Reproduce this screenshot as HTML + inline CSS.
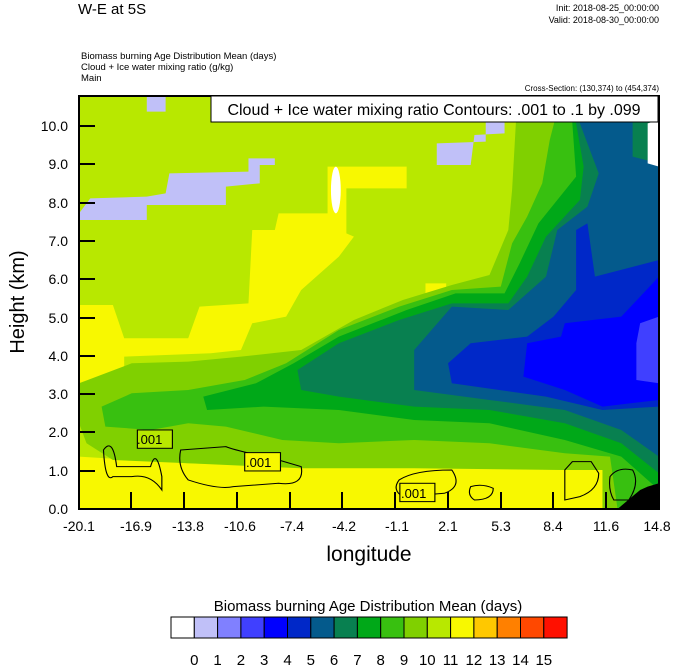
<!DOCTYPE html>
<html><head><style>
body{margin:0;background:#fff;}
svg{display:block;font-family:"Liberation Sans",sans-serif;}
</style></head><body>
<svg width="674" height="667" viewBox="0 0 674 667">
<text x="78" y="14" font-size="15">W-E at 5S</text>
<text x="659" y="11" font-size="9" text-anchor="end">Init: 2018-08-25_00:00:00</text>
<text x="659" y="23" font-size="9" text-anchor="end">Valid: 2018-08-30_00:00:00</text>
<text x="81" y="59" font-size="9.5">Biomass burning Age Distribution Mean   (days)</text>
<text x="81" y="70" font-size="9.5">Cloud + Ice water mixing ratio   (g/kg)</text>
<text x="81" y="81" font-size="9.5">Main</text>
<text x="659" y="91" font-size="8" text-anchor="end">Cross-Section: (130,374) to (454,374)</text>
<defs><clipPath id="c"><rect x="79" y="96" width="580" height="413"/></clipPath></defs>
<g clip-path="url(#c)">
<rect x="79" y="96" width="580" height="413" fill="#b8e800"/>
<g transform="translate(79,96) scale(0.3766,0.3333) translate(-10,-18)">
<polygon fill="#f8f800" points="10,645 100,645 130,745 300,745 330,650 460,640 470,420 530,420 540,370 670,370 670,230 880,230 880,295 720,295 720,430 740,440 700,500 600,600 560,680 470,700 440,780 360,790 130,800 130,870 10,880"/>
<polygon fill="#f8f800" points="930,580 985,580 985,625 930,625"/>
<polygon fill="#f8f800" points="10,1100 300,1120 600,1130 900,1130 1300,1140 1420,1140 1420,1260 10,1260"/>
<polygon fill="#80d000" points="1180,18 1550,18 1550,1257 1400,1257 1400,1140 1300,1140 900,1135 600,1135 300,1120 100,1110 30,1060 10,1000 10,880 150,820 300,815 440,800 600,780 740,690 870,630 1000,585 1100,555 1150,420 1160,300 1170,100"/>
<polygon fill="#38c010" points="1290,18 1550,18 1550,1257 1440,1257 1420,1100 1300,1090 1100,1060 900,1050 700,1060 550,1050 400,1010 300,1000 200,1020 80,1010 70,950 150,910 300,900 450,870 560,820 700,720 860,650 1000,600 1130,590 1160,460 1200,380 1240,280 1260,150"/>
<polygon fill="#00a818" points="1320,18 1550,18 1550,1200 1450,1100 1300,1050 1100,1000 900,990 700,960 500,950 350,960 340,920 480,880 580,820 700,740 880,660 1010,610 1140,610 1180,520 1230,400 1330,260 1320,100"/>
<polygon fill="#088050" points="1330,18 1550,18 1550,1150 1450,1060 1300,1000 1100,960 900,950 700,920 600,900 590,840 700,760 860,690 1000,640 1150,640 1200,560 1250,440 1340,330 1350,230 1330,100"/>
<polygon fill="#045a8c" points="1340,18 1480,18 1480,200 1550,220 1550,1100 1450,1020 1300,960 1100,930 900,900 900,780 1000,650 1150,660 1250,560 1280,420 1360,350 1390,250 1340,100"/>
<polygon fill="#0028c8" points="1380,560 1550,510 1550,950 1400,960 1250,920 1000,880 990,820 1050,760 1200,740 1270,680 1330,600 1330,420 1360,400"/>
<polygon fill="#0000ff" points="1300,700 1450,680 1550,560 1550,930 1400,950 1300,900 1190,860 1200,760 1290,740"/>
<polygon fill="#4040ff" points="1500,700 1550,680 1550,880 1490,870 1490,760"/>
<polygon fill="#fff" points="1520,100 1550,90 1550,230 1520,220"/>
<ellipse cx="692" cy="300" rx="13" ry="70" fill="#fff"/>
<polygon fill="#c0c0f8" points="10,390 190,390 190,345 400,345 400,290 490,280 490,225 530,225 530,205 460,205 460,245 250,250 240,310 190,320 40,325 10,370"/>
<polygon fill="#c0c0f8" points="190,18 240,18 240,65 190,65"/>
<polygon fill="#c0c0f8" points="960,160 1090,155 1090,95 1140,95 1140,130 1060,135 1050,225 960,225"/>
<polygon fill="#000" points="1440,1257 1500,1200 1520,1190 1550,1180 1550,1257"/>
<g fill="none" stroke="#000" stroke-width="3">
<path d="M75,1080 Q100,1040 110,1130 L200,1130 Q215,1070 230,1160 L230,1200 Q200,1150 150,1160 L100,1160 Q80,1180 75,1080Z"/>
<path d="M280,1080 L400,1070 Q420,1080 540,1110 L600,1130 Q610,1190 540,1180 L420,1190 Q380,1200 300,1170 Q270,1130 280,1080Z"/>
<path d="M860,1170 Q900,1140 1000,1140 Q1030,1190 980,1210 L870,1220 Q840,1200 860,1170Z"/>
<path d="M1050,1190 Q1080,1180 1110,1195 Q1110,1230 1060,1230 Q1040,1215 1050,1190Z"/>
<path d="M1300,1140 L1320,1115 L1370,1115 L1390,1150 Q1390,1200 1340,1220 L1300,1230 Z"/>
<path d="M1420,1160 Q1440,1130 1480,1140 Q1500,1180 1470,1230 L1430,1230 Q1415,1200 1420,1160Z"/>
</g>
<g font-size="36" stroke="#000" stroke-width="3">
<rect x="165" y="1020" width="93" height="55" fill="#b8e800"/>
<rect x="450" y="1088" width="95" height="55" fill="#f8f800"/>
<rect x="862" y="1180" width="93" height="55" fill="#f8f800"/>
</g>
</g>
<text x="137" y="444" font-size="13">.001</text>
<text x="246" y="467" font-size="13">.001</text>
<text x="401" y="498" font-size="13">.001</text>
</g>
<rect x="79" y="96" width="580" height="413" fill="none" stroke="#000" stroke-width="2"/>
<rect x="211" y="96" width="447" height="26" fill="#fff" stroke="#000" stroke-width="1"/>
<text x="434" y="115" font-size="16" text-anchor="middle">Cloud + Ice water mixing ratio Contours: .001 to .1 by .099</text>
<g stroke="#000" stroke-width="2">
<line x1="79" y1="126" x2="95" y2="126"/><line x1="79" y1="164" x2="95" y2="164"/><line x1="79" y1="203" x2="95" y2="203"/><line x1="79" y1="241" x2="95" y2="241"/><line x1="79" y1="279" x2="95" y2="279"/><line x1="79" y1="318" x2="95" y2="318"/><line x1="79" y1="356" x2="95" y2="356"/><line x1="79" y1="394" x2="95" y2="394"/><line x1="79" y1="432" x2="95" y2="432"/><line x1="79" y1="471" x2="95" y2="471"/>
<line x1="131" y1="509" x2="131" y2="492"/><line x1="184" y1="509" x2="184" y2="492"/><line x1="237" y1="509" x2="237" y2="492"/><line x1="290" y1="509" x2="290" y2="492"/><line x1="342" y1="509" x2="342" y2="492"/><line x1="395" y1="509" x2="395" y2="492"/><line x1="448" y1="509" x2="448" y2="492"/><line x1="501" y1="509" x2="501" y2="492"/><line x1="553" y1="509" x2="553" y2="492"/><line x1="606" y1="509" x2="606" y2="492"/>
</g>
<g font-size="14" text-anchor="end">
<text x="68" y="131">10.0</text><text x="68" y="169">9.0</text><text x="68" y="208">8.0</text><text x="68" y="246">7.0</text><text x="68" y="284">6.0</text><text x="68" y="323">5.0</text><text x="68" y="361">4.0</text><text x="68" y="399">3.0</text><text x="68" y="437">2.0</text><text x="68" y="476">1.0</text><text x="68" y="514">0.0</text>
</g>
<g font-size="14" text-anchor="middle">
<text x="79" y="531">-20.1</text><text x="136" y="531">-16.9</text><text x="188" y="531">-13.8</text><text x="240" y="531">-10.6</text><text x="292" y="531">-7.4</text><text x="344" y="531">-4.2</text><text x="397" y="531">-1.1</text><text x="448" y="531">2.1</text><text x="501" y="531">5.3</text><text x="553" y="531">8.4</text><text x="606" y="531">11.6</text><text x="657" y="531">14.8</text>
</g>
<text x="369" y="561" font-size="21" text-anchor="middle">longitude</text>
<text transform="translate(24,302) rotate(-90)" font-size="20" text-anchor="middle">Height (km)</text>
<text x="368" y="611" font-size="15" text-anchor="middle">Biomass burning Age Distribution Mean  (days)</text>
<g stroke="#000" stroke-width="1">
<rect x="171" y="617" width="23.3" height="21" fill="#fff"/>
<rect x="194.3" y="617" width="23.3" height="21" fill="#c0c0f8"/>
<rect x="217.6" y="617" width="23.3" height="21" fill="#8080ff"/>
<rect x="240.9" y="617" width="23.3" height="21" fill="#4040ff"/>
<rect x="264.2" y="617" width="23.3" height="21" fill="#0000ff"/>
<rect x="287.5" y="617" width="23.3" height="21" fill="#0028c8"/>
<rect x="310.8" y="617" width="23.3" height="21" fill="#045a8c"/>
<rect x="334.1" y="617" width="23.3" height="21" fill="#088050"/>
<rect x="357.4" y="617" width="23.3" height="21" fill="#00a818"/>
<rect x="380.7" y="617" width="23.3" height="21" fill="#38c010"/>
<rect x="404" y="617" width="23.3" height="21" fill="#80d000"/>
<rect x="427.3" y="617" width="23.3" height="21" fill="#b8e800"/>
<rect x="450.6" y="617" width="23.3" height="21" fill="#f8f800"/>
<rect x="473.9" y="617" width="23.3" height="21" fill="#ffc800"/>
<rect x="497.2" y="617" width="23.3" height="21" fill="#ff8000"/>
<rect x="520.5" y="617" width="23.3" height="21" fill="#ff4800"/>
<rect x="543.8" y="617" width="23.3" height="21" fill="#ff1000"/>
</g>
<g font-size="15" text-anchor="middle">
<text x="194.3" y="665">0</text><text x="217.6" y="665">1</text><text x="240.9" y="665">2</text><text x="264.2" y="665">3</text><text x="287.5" y="665">4</text><text x="310.8" y="665">5</text><text x="334.1" y="665">6</text><text x="357.4" y="665">7</text><text x="380.7" y="665">8</text><text x="404" y="665">9</text><text x="427.3" y="665">10</text><text x="450.6" y="665">11</text><text x="473.9" y="665">12</text><text x="497.2" y="665">13</text><text x="520.5" y="665">14</text><text x="543.8" y="665">15</text>
</g>
</svg>
</body></html>
